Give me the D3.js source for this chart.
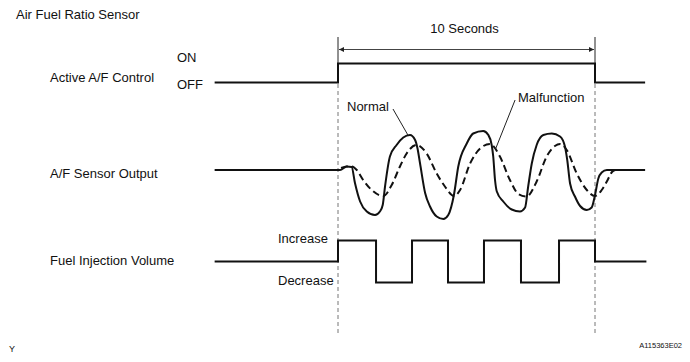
<!DOCTYPE html>
<html>
<head>
<meta charset="utf-8">
<script src="https://cdn.jsdelivr.net/npm/d3@7"></script>
<style>
  body { margin: 0; background: #fff; }
  svg { display: block; font-family: "Liberation Sans", Arial, sans-serif; }
  text { fill: #111; }
</style>
</head>
<body>
<div id="chart"></div>
<script>
// time in seconds, 0 = start of active A/F control
const controlT = [-4.8, 0, 10, 11.95];
const controlV = [0, 1, 0, 0];

const fuelT = [-4.8, 0, 1.48, 2.88, 4.28, 5.68, 7.12, 8.6, 10, 12];
const fuelV = [0, 1, -1, 1, -1, 1, -1, 1, 0, 0];

// sensor output (normal = solid)
const normalT = [-4.8, 0, 0.08, 0.34, 0.53, 0.66, 0.86, 1.12, 1.44, 1.63, 1.74, 1.83, 2.02, 2.28, 2.54, 2.8, 3.0, 3.09, 3.19, 3.39, 3.58, 3.84, 4.1, 4.29, 4.51, 4.68, 5.01, 5.26, 5.65, 5.85, 5.98, 6.04, 6.11, 6.18, 6.43, 6.76, 7.08, 7.28, 7.4, 7.54, 7.73, 7.99, 8.32, 8.64, 8.83, 8.92, 9.03, 9.22, 9.42, 9.68, 9.87, 10.0, 10.13, 10.26, 10.46, 11.95];
const normalV = [0, 0, 0, 0.07, 0.06, -0.26, -0.63, -0.83, -0.9, -0.83, -0.7, -0.33, 0.27, 0.5, 0.65, 0.7, 0.6, 0.44, 0.14, -0.46, -0.73, -0.93, -0.98, -0.9, -0.5, 0.07, 0.53, 0.73, 0.78, 0.7, 0.5, 0.27, -0.2, -0.43, -0.63, -0.79, -0.83, -0.75, -0.33, 0.13, 0.5, 0.7, 0.73, 0.67, 0.47, 0.2, -0.27, -0.53, -0.72, -0.8, -0.75, -0.5, -0.17, -0.05, 0, 0];

// sensor output (malfunction = dashed)
const malfT = [0.12, 0.34, 0.53, 0.73, 0.98, 1.31, 1.76, 2.09, 2.41, 2.67, 3.06, 3.45, 3.84, 4.16, 4.51, 4.75, 5.14, 5.53, 5.91, 6.3, 6.69, 7.02, 7.34, 7.73, 8.12, 8.44, 8.64, 8.9, 9.29, 9.68, 10.0, 10.26, 10.46, 10.66, 10.78];
const malfV = [0.04, 0.07, 0.07, 0, -0.2, -0.4, -0.52, -0.3, 0.07, 0.33, 0.5, 0.33, -0.07, -0.33, -0.52, -0.4, 0.13, 0.43, 0.52, 0.27, -0.2, -0.48, -0.53, -0.23, 0.27, 0.48, 0.52, 0.4, -0.07, -0.4, -0.52, -0.4, -0.23, -0.04, 0];

const rowLabels = ['Active A/F Control', 'A/F Sensor Output', 'Fuel Injection Volume'];

const W = 690, H = 362;
const FS = 13;
const svg = d3.select('#chart').append('svg').attr('width', W).attr('height', H);

const x = d3.scaleLinear().domain([0, 10]).range([338, 595]);
const yCtl = d3.scaleLinear().domain([0, 1]).range([82.5, 63.5]);
const ySen = d3.scaleLinear().domain([-1, 1]).range([220, 120]);
const yFuel = d3.scaleLinear().domain([-1, 1]).range([282.5, 240.5]);

const toPts = (ts, vs) => ts.map((t, i) => ({ t, v: vs[i] }));

// title
svg.append('text').attr('x', 16).attr('y', 19).attr('font-size', FS).text('Air Fuel Ratio Sensor');

// row labels
[82, 178, 265].forEach((yy, i) => {
  svg.append('text').attr('x', 50).attr('y', yy).attr('font-size', FS).text(rowLabels[i]);
});

// vertical markers at 0 and 10 s
[0, 10].forEach(t => {
  svg.append('line')
    .attr('x1', x(t)).attr('x2', x(t)).attr('y1', 37).attr('y2', 63)
    .attr('stroke', '#222').attr('stroke-width', 1);
  svg.append('line')
    .attr('x1', x(t)).attr('x2', x(t)).attr('y1', 63).attr('y2', 333)
    .attr('stroke', '#777').attr('stroke-width', 1).attr('stroke-dasharray', '4,3');
});

// 10 seconds dimension arrow
const defs = svg.append('defs');
defs.append('marker').attr('id', 'arr').attr('viewBox', '0 0 10 10')
  .attr('refX', 10).attr('refY', 5).attr('markerWidth', 8).attr('markerHeight', 5)
  .attr('markerUnits', 'userSpaceOnUse').attr('orient', 'auto-start-reverse')
  .append('path').attr('d', 'M0,0L10,5L0,10z').attr('fill', '#222');
svg.append('line')
  .attr('x1', x(0) + 1).attr('x2', x(10) - 1).attr('y1', 49.5).attr('y2', 49.5)
  .attr('stroke', '#444').attr('stroke-width', 1)
  .attr('marker-start', 'url(#arr)').attr('marker-end', 'url(#arr)');
svg.append('text').attr('x', (x(0) + x(10)) / 2 - 2).attr('y', 33).attr('font-size', FS)
  .attr('text-anchor', 'middle').text('10 Seconds');

// active A/F control
svg.append('text').attr('x', 177).attr('y', 62).attr('font-size', FS).text('ON');
svg.append('text').attr('x', 177).attr('y', 89).attr('font-size', FS).text('OFF');
svg.append('path')
  .datum(toPts(controlT, controlV))
  .attr('fill', 'none').attr('stroke', '#111').attr('stroke-width', 2)
  .attr('d', d3.line().x(d => x(d.t)).y(d => yCtl(d.v)).curve(d3.curveStepAfter));

// sensor output
const senLine = d3.line().x(d => x(d.t)).y(d => ySen(d.v)).curve(d3.curveMonotoneX);
svg.append('path')
  .datum(toPts(malfT, malfV))
  .attr('fill', 'none').attr('stroke', '#111').attr('stroke-width', 2)
  .attr('stroke-dasharray', '7,4')
  .attr('d', senLine);
svg.append('path')
  .datum(toPts(normalT, normalV))
  .attr('fill', 'none').attr('stroke', '#111').attr('stroke-width', 2)
  .attr('d', senLine);

// callouts
svg.append('text').attr('x', 347).attr('y', 110.5).attr('font-size', FS).text('Normal');
svg.append('line')
  .attr('x1', x(2.14)).attr('y1', ySen(1.22)).attr('x2', x(2.72)).attr('y2', ySen(0.7))
  .attr('stroke', '#222').attr('stroke-width', 1);
svg.append('text').attr('x', 518).attr('y', 102).attr('font-size', FS).text('Malfunction');
svg.append('line')
  .attr('x1', x(6.89)).attr('y1', ySen(1.4)).attr('x2', x(6.13)).attr('y2', ySen(0.42))
  .attr('stroke', '#222').attr('stroke-width', 1);

// fuel injection volume
svg.append('text').attr('x', 278).attr('y', 243).attr('font-size', FS).text('Increase');
svg.append('text').attr('x', 278).attr('y', 285).attr('font-size', FS).text('Decrease');
svg.append('path')
  .datum(toPts(fuelT, fuelV))
  .attr('fill', 'none').attr('stroke', '#111').attr('stroke-width', 2)
  .attr('d', d3.line().x(d => x(d.t)).y(d => yFuel(d.v)).curve(d3.curveStepAfter));

// corner marks
svg.append('text').attr('x', 9).attr('y', 352).attr('font-size', 9).text('Y');
svg.append('text').attr('x', 682).attr('y', 348).attr('font-size', 7.5)
  .attr('text-anchor', 'end').text('A115363E02');
</script>
</body>
</html>
